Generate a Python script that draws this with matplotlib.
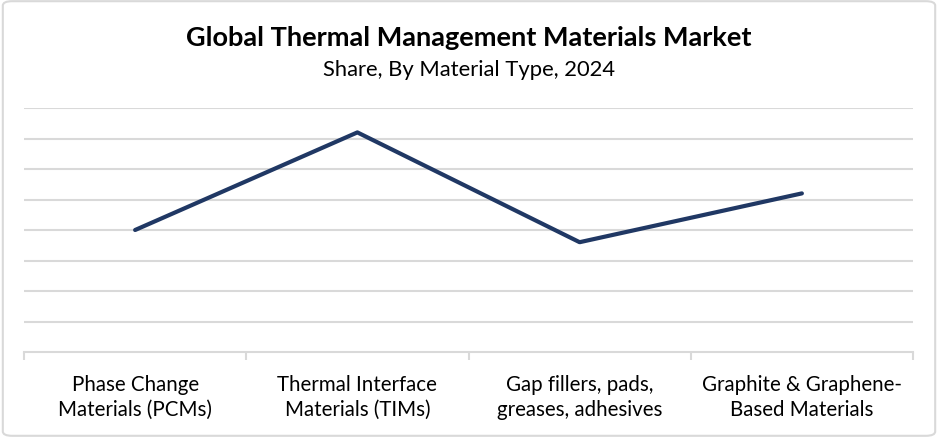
import matplotlib.pyplot as plt
from matplotlib.patches import FancyBboxPatch

plt.rcParams['font.family'] = ['Lato', 'DejaVu Sans']

categories = ['Phase Change\nMaterials (PCMs)', 'Thermal Interface\nMaterials (TIMs)',
              'Gap fillers, pads,\ngreases, adhesives', 'Graphite & Graphene-\nBased Materials']
share = [4.0, 7.2, 3.6, 5.2]

fig = plt.figure(figsize=(9.38, 4.39), dpi=100)
ax = fig.add_axes([24 / 938, 86 / 439, 889 / 938, 244 / 439])

x = list(range(len(categories)))
ax.plot(x, share, color='#203864', linewidth=3, solid_capstyle='round')

ax.set_xlim(-0.5, len(categories) - 0.5)
ax.set_ylim(0, 8)
ax.set_yticks([1, 2, 3, 4, 5, 6, 7, 8])
ax.yaxis.grid(True, color='#d9d9d9', linewidth=1.5)
ax.set_axisbelow(True)
ax.tick_params(axis='y', left=False, labelleft=False)

ax.set_xticks(x)
ax.set_xticklabels(categories, fontsize=14.8, linespacing=1.3)
ax.set_xticks([i - 0.5 for i in range(len(categories) + 1)], minor=True)
ax.tick_params(axis='x', which='major', length=0, pad=16)
ax.tick_params(axis='x', which='minor', length=6, width=1.5, color='#d9d9d9')

for s in ['top', 'right', 'left']:
    ax.spines[s].set_visible(False)
ax.spines['bottom'].set_color('#d9d9d9')
ax.spines['bottom'].set_linewidth(1.5)

fig.text(0.5, 1 - 38 / 439, 'Global Thermal Management Materials Market',
         ha='center', va='center', fontsize=19.5, fontweight='bold')
fig.text(0.5, 1 - 70 / 439, 'Share, By Material Type, 2024',
         ha='center', va='center', fontsize=15.8)

border = FancyBboxPatch((0.003, 0.005), 0.994, 0.99, boxstyle='round,pad=0,rounding_size=0.01',
                        transform=fig.transFigure, fill=False, edgecolor='#d9d9d9', linewidth=1.5)
fig.patches.append(border)

fig.savefig('out.png', dpi=100)
